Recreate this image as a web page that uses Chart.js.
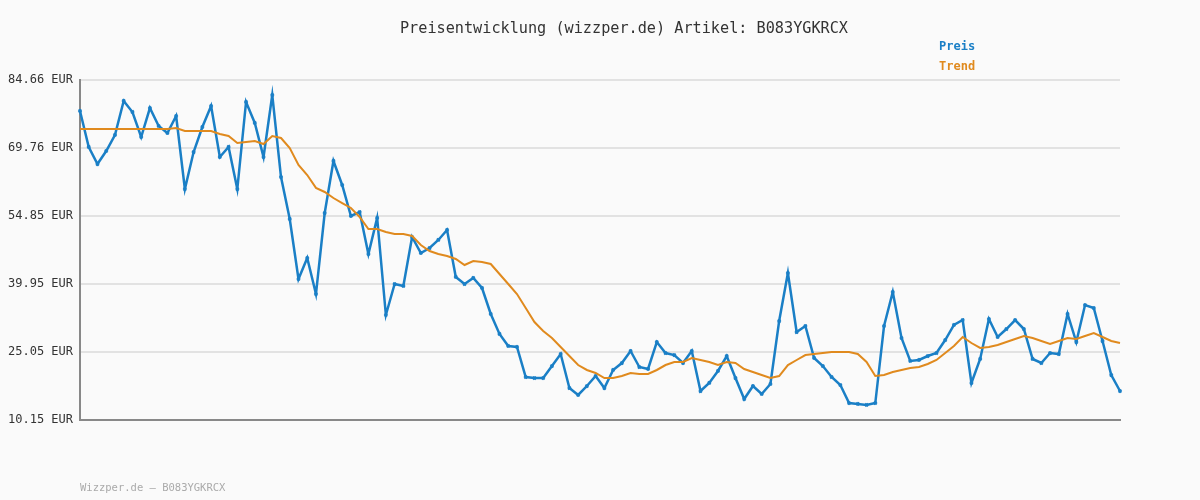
<!DOCTYPE html>
<html><head><meta charset="utf-8">
<script src="https://cdn.jsdelivr.net/npm/chart.js@4"></script>
<style>
body{margin:0;background:#fafafa;font-family:"DejaVu Sans Mono",monospace;}
#wrap{position:relative;width:1200px;height:500px;}
.t{position:absolute;white-space:nowrap;}
</style></head><body>
<div id="wrap">
<canvas id="c" width="1200" height="500"></canvas>
<div class="t" style="left:0;width:1248px;text-align:center;top:19px;font-size:15.2px;color:#333">Preisentwicklung (wizzper.de) Artikel: B083YGKRCX</div>
<div class="t" style="left:939px;top:39px;font-size:12px;color:#1a7fc6;font-weight:bold">Preis</div>
<div class="t" style="left:939px;top:59px;font-size:12px;color:#e08a1e;font-weight:bold">Trend</div>
<div class="t" style="left:80px;top:481px;font-size:10.5px;color:#aaa">Wizzper.de – B083YGKRCX</div>
</div>
<script>
const preis=[77.87,69.98,66.25,69.10,72.61,80.06,77.65,72.17,78.52,74.58,73.05,76.77,60.77,68.88,74.36,78.96,67.79,69.98,60.77,79.84,75.24,67.79,81.37,63.40,54.20,41.05,45.65,37.76,55.51,66.91,61.65,54.86,55.73,46.53,54.42,33.16,39.95,39.52,50.25,46.75,47.84,49.60,51.79,41.49,39.95,41.27,39.08,33.38,29.00,26.37,26.15,19.57,19.35,19.35,21.98,24.61,17.16,15.63,17.60,19.79,17.16,21.11,22.64,25.27,21.76,21.33,27.24,24.83,24.39,22.64,25.27,16.50,18.26,20.89,24.17,19.35,14.75,17.60,15.85,18.04,31.84,42.36,29.43,30.75,23.74,21.98,19.57,17.82,13.87,13.66,13.44,13.87,30.75,38.20,28.12,23.08,23.30,24.17,24.83,27.68,30.97,32.06,18.26,23.52,32.28,28.34,30.09,32.06,30.09,23.52,22.64,24.83,24.61,33.38,27.24,35.35,34.69,27.46,20.01,16.50];
const trend=[73.92,73.92,73.92,73.92,73.92,73.92,73.92,73.92,73.92,73.92,73.92,74.14,73.48,73.48,73.48,73.48,72.83,72.39,70.85,71.07,71.29,70.63,72.39,71.95,69.76,66.03,63.84,61.01,60.12,58.80,57.70,56.61,54.64,52.01,52.01,51.35,50.91,50.91,50.47,48.50,47.19,46.53,46.09,45.43,44.12,45.00,44.78,44.34,42.15,39.95,37.76,34.69,31.62,29.65,28.12,26.15,24.17,22.20,21.11,20.45,19.35,19.35,19.79,20.45,20.23,20.23,21.11,22.20,22.86,22.86,23.74,23.30,22.86,22.20,22.86,22.64,21.33,20.67,20.01,19.35,19.79,22.20,23.30,24.39,24.61,24.83,25.05,25.05,25.05,24.61,22.86,19.79,20.01,20.67,21.11,21.55,21.77,22.42,23.30,24.83,26.37,28.34,27.02,25.93,26.15,26.59,27.24,27.90,28.56,28.12,27.46,26.81,27.46,28.12,27.90,28.56,29.22,28.34,27.46,27.02];
const yTicks=[10.15,25.05,39.95,54.85,69.76,84.66];
const labels=preis.map((_,i)=>i+1);
new Chart(document.getElementById('c'),{
 type:'line',
 data:{labels,datasets:[
  {label:'Trend',data:trend,borderColor:'#e08a1e',borderWidth:2,pointRadius:0,tension:0},
  {label:'Preis',data:preis,borderColor:'#1a7fc6',backgroundColor:'#1a7fc6',borderWidth:2.5,pointRadius:2,pointStyle:'crossRot',pointBorderWidth:2,tension:0}
 ]},
 options:{responsive:false,animation:false,
  layout:{padding:{left:0,right:80,top:80,bottom:80}},
  plugins:{legend:{display:false},title:{display:false},tooltip:{enabled:false}},
  scales:{
   x:{ticks:{display:false},grid:{display:false,drawTicks:false},border:{color:'#888',width:2},afterFit:s=>{s.height=0;}},
   y:{min:10.15,max:84.66,
      afterBuildTicks:s=>{s.ticks=yTicks.map(v=>({value:v}));},
      afterFit:s=>{s.width=80;},
      ticks:{callback:v=>v.toFixed(2)+' EUR',color:'#333',font:{family:'DejaVu Sans Mono',size:12},padding:7},
      grid:{color:'#e2e2e2',lineWidth:2,drawTicks:false},
      border:{color:'#888',width:2}}
  }}
});
</script>
</body></html>
